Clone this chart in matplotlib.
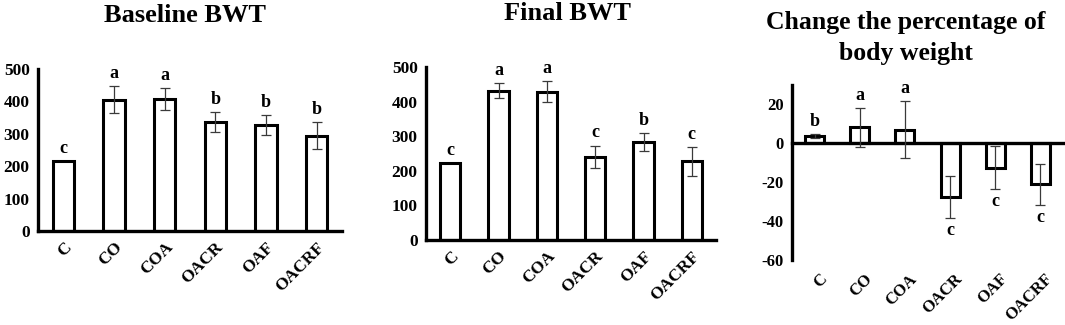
import matplotlib
matplotlib.use("Agg")
import matplotlib.pyplot as plt
import numpy as np

plt.rcParams['font.family'] = ['Liberation Serif', 'DejaVu Serif']
plt.rcParams['font.weight'] = 'bold'

groups = ["C", "CO", "COA", "OACR", "OAF", "OACRF"]

baseline_vals = [216, 405, 407, 337, 327, 294]
baseline_err = [0, 42, 34, 30, 31, 41]
baseline_letters = ["c", "a", "a", "b", "b", "b"]

final_vals = [222, 432, 429, 241, 283, 227]
final_err = [0, 21, 30, 32, 26, 42]
final_letters = ["c", "a", "a", "c", "b", "c"]

change_vals = [3.8, 8.2, 7.1, -27.5, -12.6, -21.1]
change_err = [1.0, 10.0, 14.6, 10.7, 11.0, 10.7]
change_letters = ["b", "a", "a", "c", "c", "c"]

W, H = 1065, 325
fig = plt.figure(figsize=(W / 100, H / 100), dpi=100)

def px_axes(x0, x1, ytop, ybot):
    return fig.add_axes([x0 / W, 1 - ybot / H, (x1 - x0) / W, (ybot - ytop) / H])

def draw(ax, vals, errs, letters, ylim, yticks, tick_fs, letter_offset, xlabels=True):
    x = np.arange(len(groups))
    ax.bar(x, vals, width=0.42, color='white', edgecolor='black', linewidth=2.2, zorder=2)
    vals_a = np.array(vals, dtype=float)
    errs_a = np.array(errs, dtype=float)
    m = errs_a > 0
    ax.errorbar(x[m], vals_a[m], yerr=errs_a[m], fmt='none', ecolor='#3a3a3a', elinewidth=0.9,
                capsize=3.5, capthick=0.9, zorder=3)
    for xi, v, e, lab in zip(x, vals, errs, letters):
        if v >= 0:
            ax.annotate(lab, (xi, v + e), xytext=(0, letter_offset), textcoords='offset points',
                        ha='center', va='bottom', fontsize=13, fontweight='bold')
        else:
            ax.annotate(lab, (xi, v - e), xytext=(0, -letter_offset), textcoords='offset points',
                        ha='center', va='top', fontsize=13, fontweight='bold')
    ax.set_xlim(-0.5, 5.5)
    ax.set_ylim(*ylim)
    ax.set_yticks(yticks)
    ax.set_yticklabels([str(t) for t in yticks], fontsize=tick_fs, fontweight='bold')
    if xlabels:
        ax.set_xticks(x)
        ax.set_xticklabels(groups, rotation=45, ha='right', rotation_mode='anchor',
                           fontsize=12.5, fontweight='bold')
    else:
        ax.set_xticks([])
    ax.tick_params(axis='both', length=0, pad=6)
    for s in ['top', 'right']:
        ax.spines[s].set_visible(False)
    ax.spines['left'].set_linewidth(2.4)
    ax.spines['bottom'].set_linewidth(2.4)
    ax.set_facecolor('none')

ax1 = px_axes(38, 342, 69, 231)
draw(ax1, baseline_vals, baseline_err, baseline_letters, (0, 500), [0, 100, 200, 300, 400, 500], 12.5, 3)

ax2 = px_axes(426, 716, 67, 240)
draw(ax2, final_vals, final_err, final_letters, (0, 500), [0, 100, 200, 300, 400, 500], 12.5, 3)

ax3 = px_axes(792, 1063, 85, 260)
draw(ax3, change_vals, change_err, change_letters, (-60, 30), [-60, -40, -20, 0, 20], 12, 3,
     xlabels=False)
ax3.spines['bottom'].set_position(('data', 0))
for xi, g in enumerate(groups):
    ax3.annotate(g, (xi, -60), xytext=(3, -8), textcoords='offset points', rotation=45,
                 ha='right', va='top', rotation_mode='anchor', fontsize=12, fontweight='bold',
                 annotation_clip=False)

fig.text(185 / W, 1 - 16 / H, "Baseline BWT", ha='center', va='center', fontsize=19, fontweight='bold')
fig.text(568 / W, 1 - 14 / H, "Final BWT", ha='center', va='center', fontsize=19, fontweight='bold')
fig.text(906 / W, 1 - 38 / H, "Change the percentage of\nbody weight", ha='center', va='center',
         fontsize=18.5, fontweight='bold', linespacing=1.4)

fig.savefig("out.png", dpi=100)
